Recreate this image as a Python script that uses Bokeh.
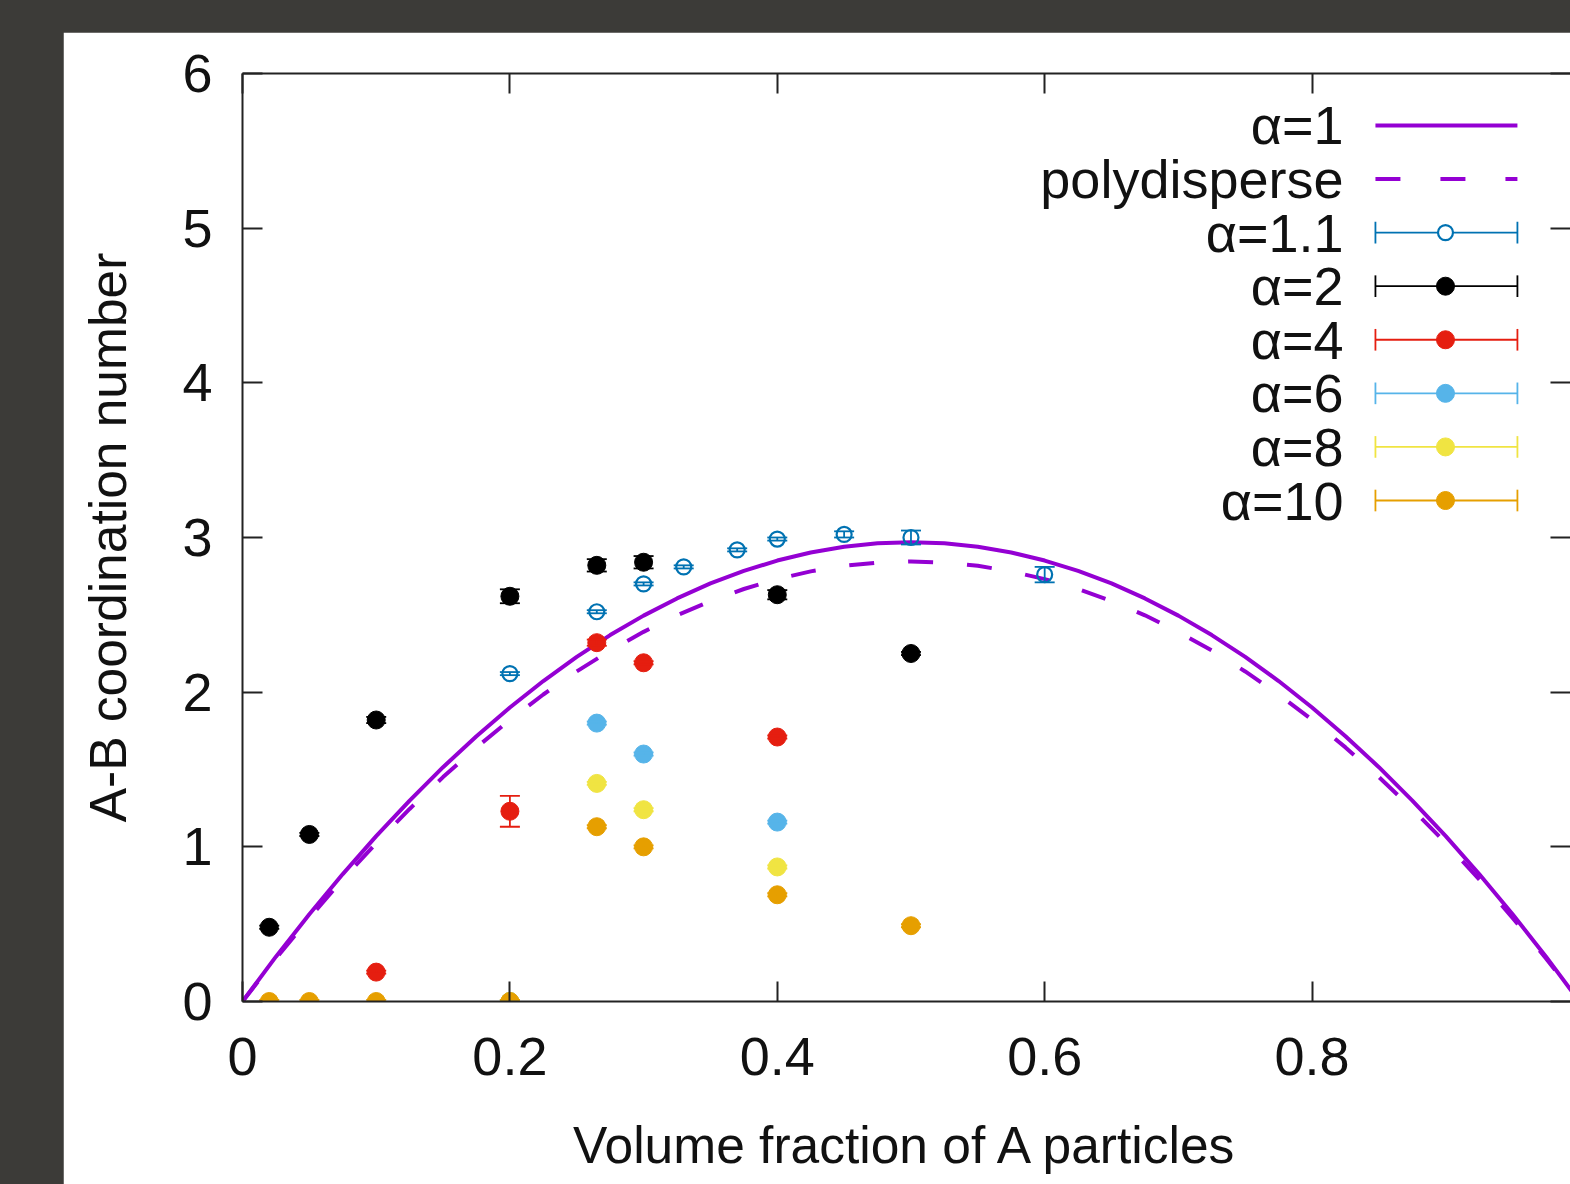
from bokeh.plotting import figure
from bokeh.models import (ColumnDataSource, Whisker, TeeHead, LinearAxis, Range1d,
                          FixedTicker, GlobalInlineStyleSheet)
from bokeh.embed import file_html
from bokeh.resources import INLINE
from bokeh.core.properties import value

FONT = "Liberation Sans"

# ---------------- data ----------------
phi_curve = [0.0, 0.025, 0.05, 0.075, 0.10, 0.125, 0.15, 0.175, 0.20, 0.225,
             0.25, 0.275, 0.30, 0.325, 0.35, 0.375, 0.40, 0.425, 0.45, 0.475,
             0.50, 0.525, 0.55, 0.575, 0.60, 0.625, 0.65, 0.675, 0.70, 0.725,
             0.75, 0.775, 0.80, 0.825, 0.85, 0.875, 0.90, 0.925, 0.95, 0.975, 1.0]
z_alpha1 = [0.0, 0.290, 0.564, 0.824, 1.069, 1.299, 1.515, 1.715, 1.901, 2.072,
            2.228, 2.369, 2.495, 2.606, 2.703, 2.784, 2.851, 2.903, 2.940, 2.963,
            2.970, 2.963, 2.940, 2.903, 2.851, 2.784, 2.703, 2.606, 2.495, 2.369,
            2.228, 2.072, 1.901, 1.715, 1.515, 1.299, 1.069, 0.824, 0.564, 0.290, 0.0]
z_poly = [0.0, 0.278, 0.540, 0.790, 1.024, 1.245, 1.451, 1.643, 1.821, 1.985,
          2.134, 2.269, 2.390, 2.497, 2.589, 2.667, 2.731, 2.781, 2.817, 2.838,
          2.845, 2.838, 2.817, 2.781, 2.731, 2.667, 2.589, 2.497, 2.390, 2.269,
          2.134, 1.985, 1.821, 1.643, 1.451, 1.245, 1.024, 0.790, 0.540, 0.278, 0.0]

phi_a11 = [0.20, 0.265, 0.30, 0.33, 0.37, 0.40, 0.45, 0.50, 0.60]
z_a11 = [2.12, 2.52, 2.70, 2.81, 2.92, 2.99, 3.02, 3.00, 2.76]
err_a11 = [0.01, 0.01, 0.01, 0.01, 0.01, 0.01, 0.02, 0.045, 0.05]

phi_a2 = [0.02, 0.05, 0.10, 0.20, 0.265, 0.30, 0.40, 0.50]
z_a2 = [0.48, 1.08, 1.82, 2.62, 2.82, 2.84, 2.63, 2.25]
err_a2 = [0.01, 0.01, 0.02, 0.045, 0.04, 0.04, 0.03, 0.01]

phi_a4 = [0.10, 0.20, 0.265, 0.30, 0.40]
z_a4 = [0.19, 1.23, 2.32, 2.19, 1.71]
err_a4 = [0.01, 0.10, 0.02, 0.01, 0.01]

phi_a6 = [0.20, 0.265, 0.30, 0.40]
z_a6 = [0.0, 1.80, 1.60, 1.16]
err_a6 = [0.01, 0.01, 0.01, 0.01]

phi_a8 = [0.20, 0.265, 0.30, 0.40]
z_a8 = [0.0, 1.41, 1.24, 0.87]
err_a8 = [0.01, 0.01, 0.01, 0.01]

phi_a10 = [0.02, 0.05, 0.10, 0.20, 0.265, 0.30, 0.40, 0.50]
z_a10 = [0.0, 0.0, 0.0, 0.0, 1.13, 1.00, 0.69, 0.49]
err_a10 = [0.01, 0.01, 0.01, 0.01, 0.01, 0.01, 0.01, 0.01]

x_ticks = [0.0, 0.2, 0.4, 0.6, 0.8, 1.0]
x_tick_labels = ["0", "0.2", "0.4", "0.6", "0.8", "1"]
y_ticks = [0, 1, 2, 3, 4, 5, 6]
y_tick_labels = ["0", "1", "2", "3", "4", "5", "6"]

legend_labels = ["α=1", "polydisperse", "α=1.1", "α=2", "α=4", "α=6", "α=8", "α=10"]

PURPLE = "#9400d3"
series = [
    ("α=1.1", phi_a11, z_a11, err_a11, "#0072b2", True),
    ("α=2", phi_a2, z_a2, err_a2, "#000000", False),
    ("α=4", phi_a4, z_a4, err_a4, "#e51e10", False),
    ("α=6", phi_a6, z_a6, err_a6, "#56b4e9", False),
    ("α=8", phi_a8, z_a8, err_a8, "#f0e442", False),
    ("α=10", phi_a10, z_a10, err_a10, "#e69f00", False),
]

# ---------------- figure ----------------
p = figure(width=1507, height=1152,
           x_range=Range1d(0, 0.9933), y_range=Range1d(0, 6),
           output_backend="svg", toolbar_location=None,
           min_border_left=179, min_border_right=0,
           min_border_top=41, min_border_bottom=183,
           margin=(32, 0, 0, 63),
           background_fill_color="white", border_fill_color="white",
           outline_line_color=None,
           x_axis_location=None, y_axis_location=None)
p.stylesheets = [GlobalInlineStyleSheet(css="body{background-color:#3c3b38;}")]
p.xgrid.visible = False
p.ygrid.visible = False


def style_axis(ax, labels):
    ax.major_tick_in = 20
    ax.major_tick_out = 0
    ax.minor_tick_in = 0
    ax.minor_tick_out = 0
    ax.axis_line_width = 2
    ax.axis_line_color = "#222222"
    ax.major_tick_line_width = 2
    ax.major_tick_line_color = "#222222"
    ax.major_label_text_font = FONT
    ax.major_label_text_color = "#111111"
    ax.axis_label_text_font = FONT
    ax.axis_label_text_font_style = "normal"
    ax.axis_label_text_color = "#111111"
    if labels:
        ax.major_label_text_font_size = "54px"
    else:
        ax.major_label_text_font_size = "0px"
        ax.major_label_standoff = 0


xt = FixedTicker(ticks=x_ticks)
yt = FixedTicker(ticks=y_ticks)
xover = {t: l for t, l in zip(x_ticks, x_tick_labels)}
yover = {t: l for t, l in zip(y_ticks, y_tick_labels)}

bottom = LinearAxis(ticker=xt, major_label_overrides=xover)
style_axis(bottom, True)
bottom.major_label_standoff = 36
bottom.axis_label = "Volume fraction of A particles"
bottom.axis_label_text_font_size = "51.5px"
bottom.axis_label_standoff = 38
p.add_layout(bottom, "below")

left = LinearAxis(ticker=yt, major_label_overrides=yover)
style_axis(left, True)
left.major_label_standoff = 30
left.axis_label = "A-B coordination number"
left.axis_label_text_font_size = "51.5px"
left.axis_label_standoff = 42
p.add_layout(left, "left")

top = LinearAxis(ticker=xt, major_label_overrides={t: "" for t in x_ticks})
style_axis(top, False)
p.add_layout(top, "above")

right = LinearAxis(ticker=yt, major_label_overrides={t: "" for t in y_ticks})
style_axis(right, False)
right.axis_line_color = None
p.add_layout(right, "right")

# ---------------- curves ----------------
p.line(phi_curve, z_alpha1, line_color=PURPLE, line_width=4)
p.line(phi_curve, z_poly, line_color=PURPLE, line_width=4, line_dash="25 34")

# ---------------- data points with error bars ----------------
for name, xs, ys, es, color, hollow in series:
    src = ColumnDataSource(dict(x=xs, y=ys,
                                lo=[y - e for y, e in zip(ys, es)],
                                hi=[y + e for y, e in zip(ys, es)]))
    w = Whisker(source=src, base="x", lower="lo", upper="hi",
                line_color=color, line_width=1.8,
                upper_head=TeeHead(size=20, line_color=color, line_width=1.8),
                lower_head=TeeHead(size=20, line_color=color, line_width=1.8),
                level="glyph")
    p.add_layout(w)
    if hollow:
        p.scatter("x", "y", source=src, marker="circle", size=15,
                  line_color=color, line_width=2.2, fill_color=None)
    else:
        p.scatter("x", "y", source=src, marker="circle", size=18,
                  line_color=color, line_width=1, fill_color=color)

# ---------------- gnuplot-style key (label, then sample) ----------------
LEG_TEXT_X = 0.8235
LEG_S0 = 0.8474
LEG_S1 = 0.9536
LEG_MID = 0.8998
LEG_Y0 = 5.664
LEG_DY = 0.3464
CAP = 0.07

rows_y = [LEG_Y0 - i * LEG_DY for i in range(len(legend_labels))]
p.text(x=[LEG_TEXT_X] * len(legend_labels), y=rows_y, text=legend_labels,
       text_align="right", text_baseline="middle",
       text_font=value(FONT), text_font_size="54px", text_color="#111111")

p.line([LEG_S0, LEG_S1], [rows_y[0], rows_y[0]], line_color=PURPLE, line_width=4)
p.line([LEG_S0, LEG_S1], [rows_y[1], rows_y[1]], line_color=PURPLE, line_width=4,
       line_dash="25 40")

for i, (name, xs, ys, es, color, hollow) in enumerate(series):
    yy = rows_y[i + 2]
    p.segment(x0=[LEG_S0, LEG_S0, LEG_S1], y0=[yy, yy - CAP, yy - CAP],
              x1=[LEG_S1, LEG_S0, LEG_S1], y1=[yy, yy + CAP, yy + CAP],
              line_color=color, line_width=1.8)
    if hollow:
        p.scatter([LEG_MID], [yy], marker="circle", size=15, line_color=color,
                  line_width=2.2, fill_color="white")
    else:
        p.scatter([LEG_MID], [yy], marker="circle", size=18, line_color=color,
                  fill_color=color)

open("out.html", "w").write(file_html(p, INLINE))
